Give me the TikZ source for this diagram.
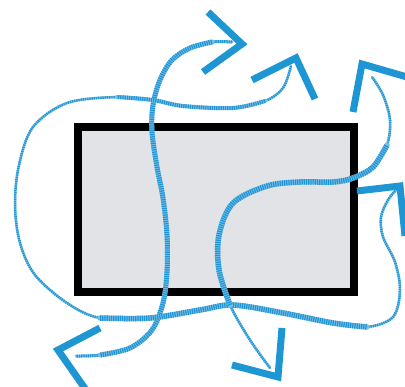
\documentclass[tikz,border=0pt]{standalone}
\definecolor{arrowblue}{RGB}{30,150,212}
\definecolor{flowlight}{RGB}{120,190,230}
\definecolor{boxgray}{RGB}{225,227,230}
\tikzset{
  headline/.style={draw=arrowblue, line width=7pt, line join=miter, line cap=butt},
  flowbase/.style={draw=flowlight, line cap=round, line join=round},
  flowhatch/.style={draw=arrowblue, dash pattern=on 1.2pt off 1pt},
  boxnode/.style={draw=black, fill=boxgray, line width=8pt, minimum width=276pt, minimum height=165pt, inner sep=0pt, outer sep=0pt}
}
\newcommand\flowseg[2]{%
  \draw[flowbase, line width=#1] plot[smooth, tension=0.55] coordinates {#2};
  \draw[flowhatch, line width=#1] plot[smooth, tension=0.55] coordinates {#2};}
\begin{document}
\begin{tikzpicture}[x=1pt, y=-1pt]
\useasboundingbox (0,0) rectangle (405,387);
\clip (0,0) rectangle (405,387);
\node[boxnode] (box) at (216,209.5) {};

% curve A
\flowseg{3}{(232,42) (212,42) (190,48) (172,60) (160,80) (153,105) (152,132) (157,167) (163,198) (167,235) (167,272) (163,303) (152,330) (130,348) (100,355) (76,356)}
\flowseg{5}{(212,42) (190,48) (172,60) (160,80) (153,105) (152,132) (157,167) (163,198) (167,235) (167,272) (163,303) (152,330) (130,348) (100,355)}
% curve B
\flowseg{2.5}{(291,66) (283,88) (265,101) (233,108) (183,106) (153,100) (117,97) (67,103) (33,127) (19,165) (15,205) (20,243) (35,275) (67,303) (100,318) (150,318) (200,310) (233,305) (283,313) (333,323) (367,327) (393,317) (400,290) (395,262) (383,237) (381,217) (388,200) (396,190)}
\flowseg{4}{(265,101) (233,108) (183,106) (153,100) (117,97)}
\flowseg{5.5}{(100,318) (150,318) (200,310) (233,305) (283,313) (333,323) (367,327)}
% curve C
\flowseg{2.5}{(270,368) (250,340) (230,305) (219,270) (219,235) (233,203) (267,186) (300,182) (333,182) (353,178) (373,167) (387,145) (390,120) (383,95) (372,77)}
\flowseg{5.5}{(230,305) (219,270) (219,235) (233,203) (267,186) (300,182) (333,182) (353,178) (373,167) (387,145)}

% arrow heads
\coordinate (tA1) at (242,44);
\coordinate (tA2) at (58,350);
\coordinate (tB1) at (296,58);
\coordinate (tB2) at (400,186);
\coordinate (tC1) at (362,64);
\coordinate (tC2) at (278,377);
\draw[headline] (208,12) -- (tA1) -- (203,72);
\draw[headline] (100,328) -- (tA2) -- (86,390);
\draw[headline] (252,80) -- (tB1) -- (315,99);
\draw[headline] (357,191) -- (tB2) -- (405,236);
\draw[headline] (353,112) -- (tC1) -- (407,77);
\draw[headline] (282,328) -- (tC2) -- (232,365);
\end{tikzpicture}
\end{document}
